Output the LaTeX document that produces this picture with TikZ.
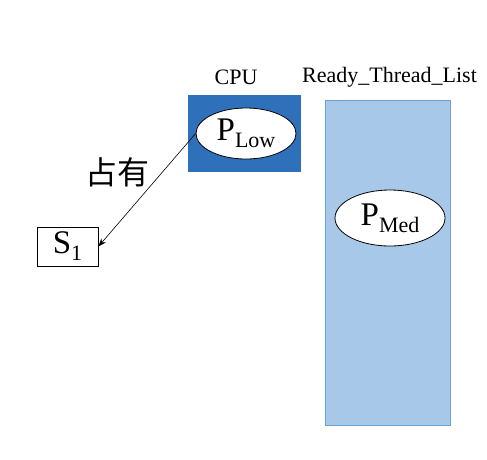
\documentclass[tikz,border=0pt]{standalone}
\usepackage{fontspec}
\setmainfont{Liberation Serif}
\newfontfamily\cjk{Noto Sans CJK SC}
\usetikzlibrary{shapes.geometric,arrows.meta}
\definecolor{cpublue}{RGB}{47,112,186}
\definecolor{listfill}{RGB}{168,200,234}
\definecolor{listedge}{RGB}{110,160,215}
\tikzset{
  proc/.style={ellipse,draw=black,fill=white,line width=0.8pt,inner sep=0pt},
  lbl/.style={font=\fontsize{22}{26}\selectfont,inner sep=0pt},
}
\newcommand{\subtxt}[2]{\fontsize{33}{36}\selectfont #1\raisebox{-7pt}{\fontsize{22}{26}\selectfont #2}}
\begin{document}
\begin{tikzpicture}[x=1pt,y=-1pt]
\useasboundingbox (0,0) rectangle (487,459);
% CPU box
\node[fill=cpublue,minimum width=113pt,minimum height=77pt,inner sep=0pt] (cpu) at (244.5,133.5) {};
% Ready list
\node[fill=listfill,draw=listedge,line width=1pt,minimum width=125pt,minimum height=325pt,inner sep=0pt] (list) at (387.5,262.5) {};
% labels
\node[lbl] (cpulbl) at (236,77) {CPU};
\node[lbl] (listlbl) at (389.5,77) {Ready\_Thread\_List};
% processes
\node[proc,minimum width=100pt,minimum height=51pt] (plow) at (246,133.5) {\subtxt{P}{Low}};
\node[proc,minimum width=110pt,minimum height=56pt] (pmed) at (390,218) {\subtxt{P}{Med}};
% S1
\node[draw=black,line width=0.8pt,minimum width=61pt,minimum height=39pt,inner sep=0pt] (s1) at (67.5,246.5) {\subtxt{S}{1}};
% occupy text
\node[inner sep=0pt] (own) at (117.5,172) {\cjk\fontsize{32}{34}\selectfont 占有};
% arrow
\draw[-{Stealth[length=8pt,width=6pt]},line width=0.6pt] (plow.west) -- (s1.east);
\end{tikzpicture}
\end{document}
